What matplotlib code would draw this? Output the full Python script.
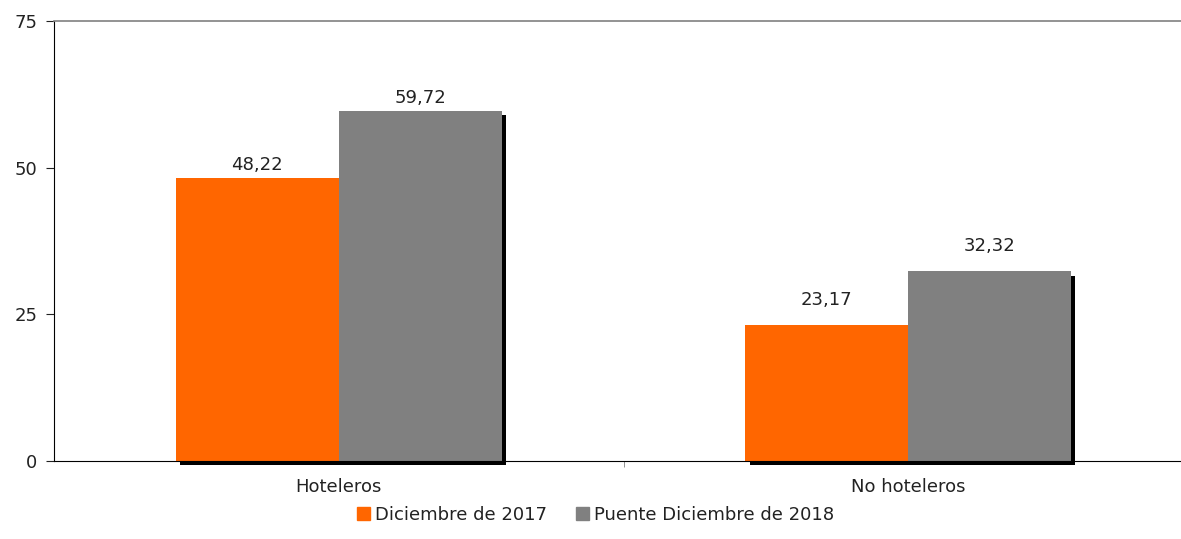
import numpy as np
import matplotlib
matplotlib.use("Agg")
import matplotlib.pyplot as plt
import matplotlib.patheffects as pe
from matplotlib.patches import Patch

# data
categories = ["Hoteleros", "No hoteleros"]
series_names = ["Diciembre de 2017", "Puente Diciembre de 2018"]
vals_2017 = [48.22, 23.17]
vals_2018 = [59.72, 32.32]
label_pad = [4, 16]   # px above bar, per category

colors = ["#FF6600", "#808080"]
text_col = "#222222"

plt.rcParams["font.family"] = "DejaVu Sans"
plt.rcParams["font.size"] = 13

fig = plt.figure(figsize=(11.81, 5.39), dpi=100)
ax = fig.add_axes([54 / 1181, 78 / 539, 1139 / 1181, 440 / 539])

x = np.arange(len(categories))
w = 0.286
shadow = [pe.SimplePatchShadow(offset=(3, -3), shadow_rgbFace="black", alpha=1.0), pe.Normal()]

for i, (vals, col) in enumerate(zip([vals_2017, vals_2018], colors)):
    bars = ax.bar(x + (i - 0.5) * w, vals, w, color=col, zorder=2, clip_on=False)
    for j, b in enumerate(bars):
        b.set_path_effects(shadow)
        ax.annotate(f"{vals[j]:.2f}".replace(".", ","),
                    (b.get_x() + b.get_width() / 2, b.get_height()),
                    xytext=(0, label_pad[j] * 0.72), textcoords="offset points",
                    ha="center", va="bottom", color=text_col)

ax.set_xlim(-0.5, 1.5)
ax.set_ylim(0, 75)
ax.set_yticks([0, 25, 50, 75])
ax.set_xticks(x)
ax.set_xticklabels(categories, color=text_col)
ax.set_xticks([0.5], minor=True)
ax.tick_params(axis="x", which="major", length=0, pad=12)
ax.tick_params(axis="x", which="minor", length=4, color="#808080")
ax.tick_params(axis="y", length=6, pad=6, colors=text_col)

ax.spines["right"].set_visible(False)
ax.spines["top"].set_color("#808080")
ax.spines["top"].set_linewidth(1.2)
ax.spines["left"].set_color("black")
ax.spines["bottom"].set_color("black")
ax.spines["bottom"].set_zorder(3)

handles = [Patch(color=c) for c in colors]
fig.legend(handles, series_names, loc="center", bbox_to_anchor=(596 / 1181, 24 / 539),
           ncol=2, frameon=False, handlelength=0.7, handleheight=0.7,
           handletextpad=0.3, columnspacing=1.6, labelcolor=text_col)

fig.savefig("out.png", dpi=100)
